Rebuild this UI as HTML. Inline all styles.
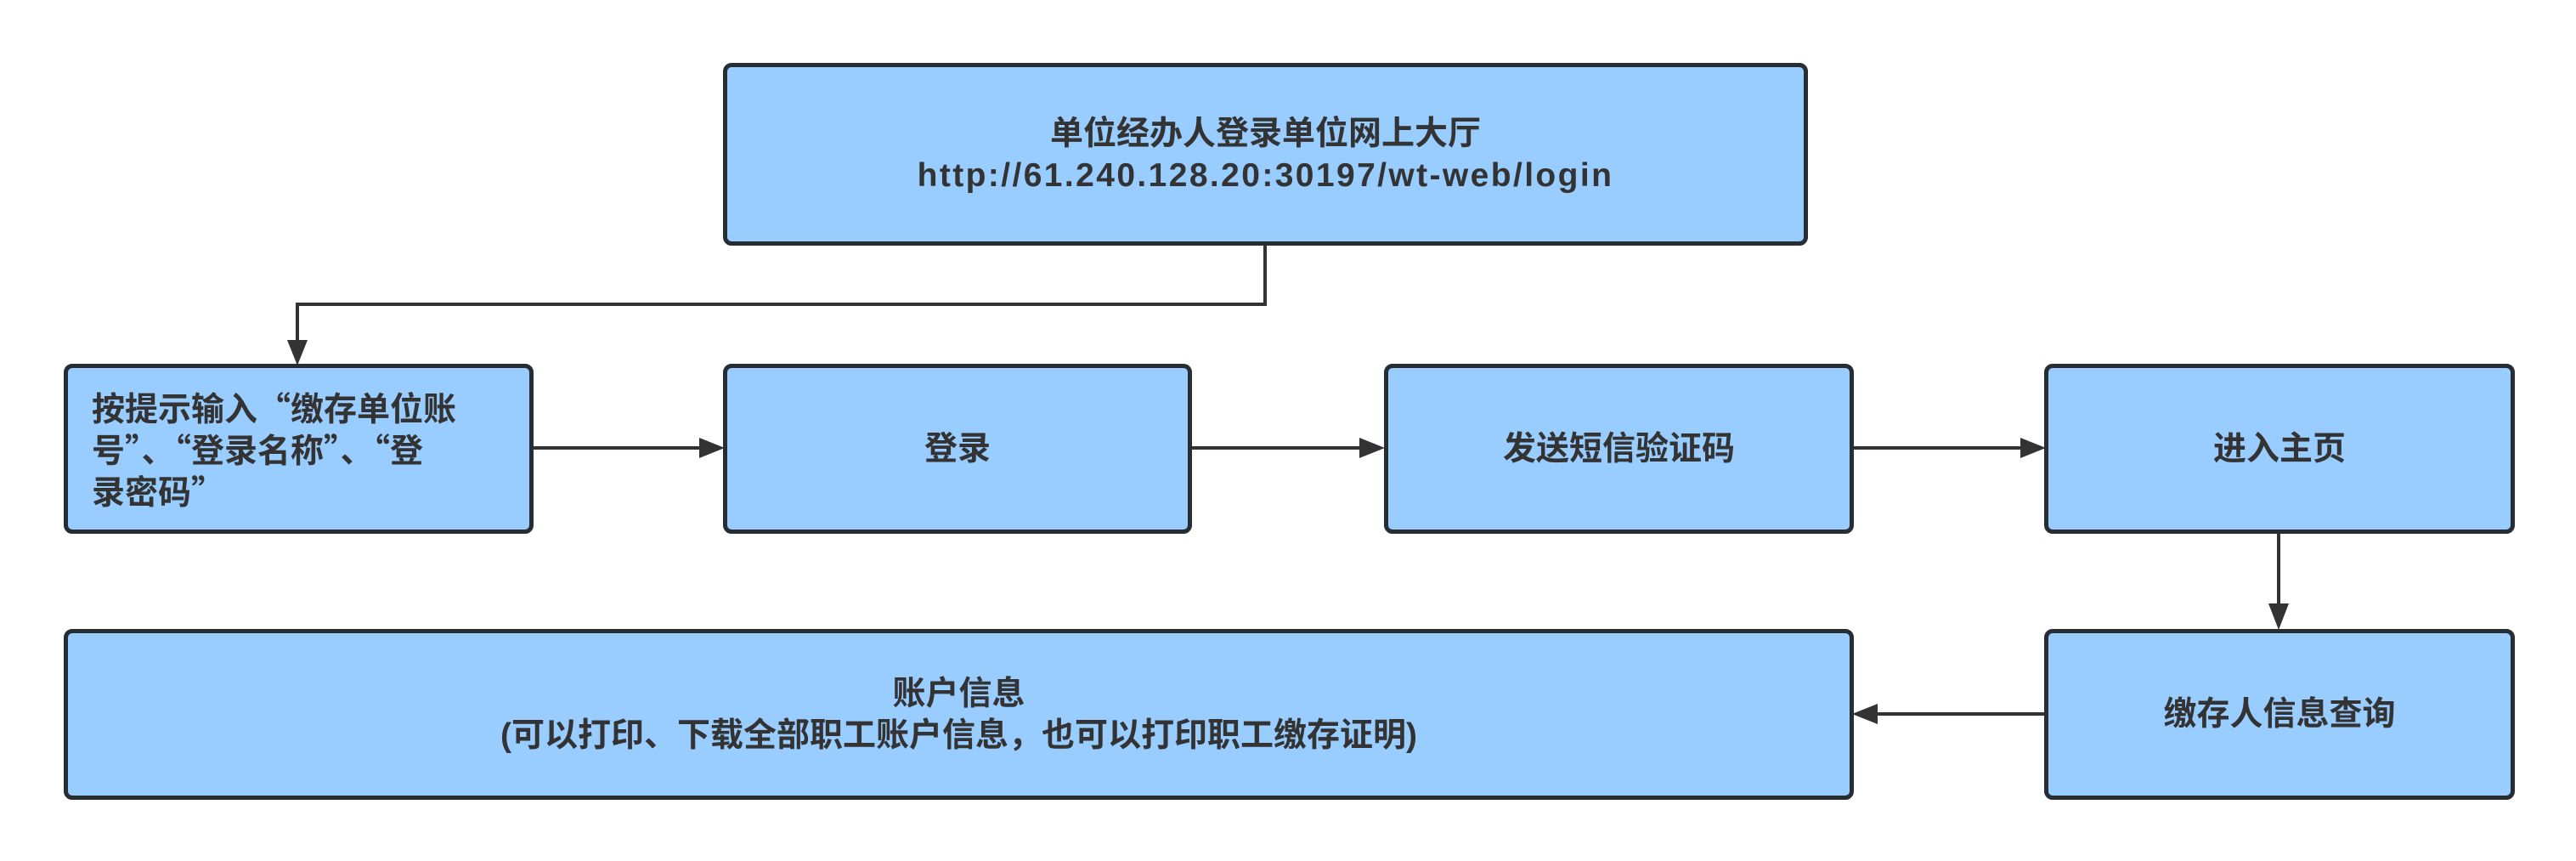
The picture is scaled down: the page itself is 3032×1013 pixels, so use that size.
<!DOCTYPE html>
<html><head><meta charset="utf-8"><style>
body{margin:0;width:3032px;height:1013px;background:#fff;overflow:hidden;position:relative;font-family:"Liberation Sans","Noto Sans CJK SC",sans-serif;}
.b{position:absolute;box-sizing:border-box;background:#99ccff;border:5px solid #262d33;border-radius:10px;display:flex;align-items:center;justify-content:center;text-align:center;color:#333;font-weight:bold;font-size:39px;line-height:49px;}
.u{letter-spacing:2.4px;}
.q{font-family:"Noto Sans CJK SC",sans-serif;}
svg{position:absolute;left:0;top:0;}
</style></head><body>
<svg width="3032" height="1013">
<g stroke="#333" stroke-width="4" fill="none">
<polyline points="1489,288 1489,358 350,358 350,400"/>
<line x1="627" y1="527" x2="825" y2="527"/>
<line x1="1402" y1="527" x2="1602" y2="527"/>
<line x1="2181" y1="527" x2="2380" y2="527"/>
<line x1="2682" y1="627" x2="2682" y2="712"/>
<line x1="2406" y1="840" x2="2208" y2="840"/>
</g>
<g fill="#333">
<polygon points="338,400 362,400 350,430"/>
<polygon points="823,515 823,539 853,527"/>
<polygon points="1600,515 1600,539 1630,527"/>
<polygon points="2378,515 2378,539 2408,527"/>
<polygon points="2670,710 2694,710 2682,741"/>
<polygon points="2210,828 2210,852 2180,840"/>
</g>
</svg>
<div class="b" style="left:851px;top:74px;width:1277px;height:215px;"><div>单位经办人登录单位网上大厅<br><span class="u">http://61.240.128.20:30197/wt-web/login</span></div></div>
<div class="b q" style="left:75px;top:428px;width:553px;height:200px;justify-content:flex-start;text-align:left;padding-left:28px;padding-right:0;"><div>按提示输入“缴存单位账<br>号”、“登录名称”、“登<br>录密码”</div></div>
<div class="b" style="left:851px;top:428px;width:552px;height:200px;">登录</div>
<div class="b" style="left:1629px;top:428px;width:553px;height:200px;">发送短信验证码</div>
<div class="b" style="left:2406px;top:428px;width:554px;height:200px;">进入主页</div>
<div class="b" style="left:75px;top:740px;width:2107px;height:201px;"><div>账户信息<br>(可以打印、下载全部职工账户信息，也可以打印职工缴存证明)</div></div>
<div class="b" style="left:2406px;top:740px;width:554px;height:201px;">缴存人信息查询</div>
</body></html>
